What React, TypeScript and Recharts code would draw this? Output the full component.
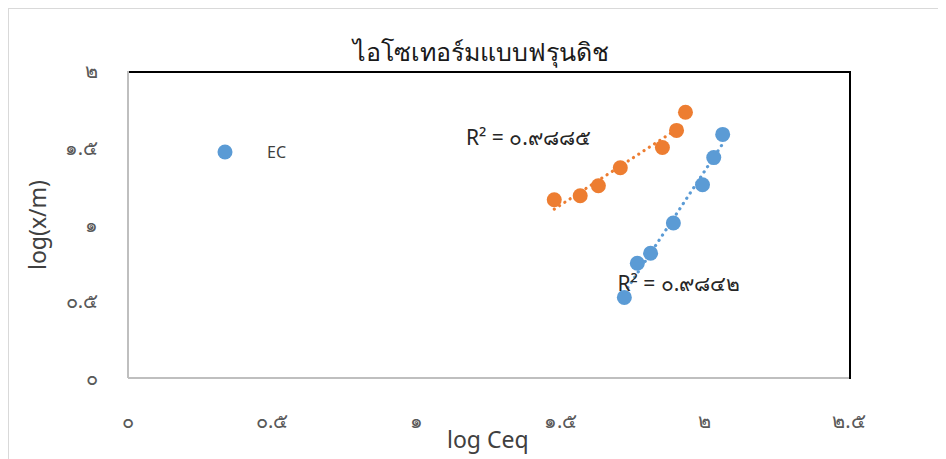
import {
  ScatterChart,
  Scatter,
  XAxis,
  YAxis,
  Legend,
  ReferenceDot,
} from "recharts";

// log Ceq / log(x/m) pairs for both isotherm series
const EC_X = [1.721, 1.766, 1.812, 1.891, 1.992, 2.031, 2.062];
const EC_Y = [0.525, 0.748, 0.813, 1.01, 1.259, 1.436, 1.587];
const ORANGE_X = [1.478, 1.568, 1.631, 1.707, 1.853, 1.902, 1.933];
const ORANGE_Y = [1.161, 1.187, 1.252, 1.37, 1.502, 1.613, 1.731];

// trendline end points (linear fit)
const EC_TREND_X = [1.721, 2.062];
const EC_TREND_Y = [0.554, 1.526];
const ORANGE_TREND_X = [1.478, 1.933];
const ORANGE_TREND_Y = [1.1, 1.657];

const X_TICKS = [0, 0.5, 1, 1.5, 2, 2.5];
const Y_TICKS = [0, 0.5, 1, 1.5, 2];

const TITLE = "ไอโซเทอร์มแบบฟรุนดิช";
const EC_R2 = "R² = ๐.๙๘๔๒";
const ORANGE_R2 = "R² = ๐.๙๘๘๕";

const BLUE = "#5B9BD5";
const ORANGE = "#ED7D31";
const FONT = "'Noto Sans', 'DejaVu Sans', sans-serif";

const THAI_DIGITS = "๐๑๒๓๔๕๖๗๘๙";
const toThai = (v: number) =>
  String(v).replace(/[0-9]/g, (d) => THAI_DIGITS[Number(d)]);

const zip = (xs: number[], ys: number[]) => xs.map((x, i) => ({ x, y: ys[i] }));

const ecData = zip(EC_X, EC_Y);
const orangeData = zip(ORANGE_X, ORANGE_Y);
const ecTrend = zip(EC_TREND_X, EC_TREND_Y);
const orangeTrend = zip(ORANGE_TREND_X, ORANGE_TREND_Y);

const W = 938;
const H = 451;

const dotted = (color: string) => ({
  stroke: color,
  strokeWidth: 3.2,
  strokeDasharray: "0.1 6.2",
  strokeLinecap: "round" as const,
});

const NoShape = () => <g />;

const renderLegend = () => (
  <div style={{ display: "flex", alignItems: "center", fontFamily: FONT }}>
    <svg width={16} height={16}>
      <circle cx={8} cy={8} r={7.5} fill={BLUE} />
    </svg>
    <span style={{ marginLeft: 34, fontSize: 16, color: "#404040" }}>EC</span>
  </div>
);

const tickStyle = { fill: "#595959", fontSize: 20, fontFamily: FONT };
const r2Style = { fill: "#262626", fontSize: 21, fontFamily: FONT };

export default function App() {
  return (
    <div
      style={{
        position: "relative",
        width: W,
        height: H,
        borderTop: "2px solid #d9d9d9",
        borderLeft: "2px solid #d9d9d9",
        margin: "-1px 0 0 -1px",
        background: "#fff",
      }}
    >
      <div
        style={{
          position: "absolute",
          left: 0,
          width: 944,
          top: 23,
          textAlign: "center",
          fontFamily: FONT,
          fontSize: 25,
          color: "#1a1a1a",
        }}
      >
        {TITLE}
      </div>
      <div
        style={{
          position: "absolute",
          left: 438,
          top: 414,
          fontFamily: FONT,
          fontSize: 23,
          color: "#404040",
        }}
      >
        log Ceq
      </div>
      <div
        style={{
          position: "absolute",
          left: 28,
          top: 216,
          transform: "translate(-50%, -50%) rotate(-90deg)",
          fontFamily: FONT,
          fontSize: 23,
          color: "#404040",
          whiteSpace: "nowrap",
        }}
      >
        log(x/m)
      </div>
      <ScatterChart
        width={W}
        height={H}
        margin={{ top: 62, right: 98, bottom: 32, left: 20 }}
        style={{ position: "absolute", left: 0, top: 0 }}
      >
        <XAxis
          type="number"
          dataKey="x"
          domain={[0, 2.5]}
          ticks={X_TICKS}
          tickFormatter={toThai}
          height={50}
          stroke="#bfbfbf"
          strokeWidth={2}
          tickLine={false}
          tickSize={0}
          tickMargin={36}
          tick={tickStyle}
        />
        <YAxis
          type="number"
          dataKey="y"
          domain={[0, 2]}
          ticks={Y_TICKS}
          tickFormatter={toThai}
          width={99}
          stroke="#bfbfbf"
          strokeWidth={2}
          tickLine={false}
          tickSize={0}
          tickMargin={30}
          tick={tickStyle}
        />
        <Legend
          content={renderLegend}
          layout="horizontal"
          verticalAlign="middle"
          align="center"
          wrapperStyle={{ top: 132, left: 208, width: 100 }}
        />
        <Scatter
          name="trend-orange"
          data={orangeTrend}
          line={dotted(ORANGE)}
          shape={NoShape}
          legendType="none"
          isAnimationActive={false}
        />
        <Scatter
          name="trend-ec"
          data={ecTrend}
          line={dotted(BLUE)}
          shape={NoShape}
          legendType="none"
          isAnimationActive={false}
        />
        <Scatter
          name="series2"
          data={orangeData}
          fill={ORANGE}
          shape={(p: any) => <circle cx={p.cx} cy={p.cy} r={7.5} fill={ORANGE} />}
          legendType="none"
          isAnimationActive={false}
        />
        <Scatter
          name="EC"
          data={ecData}
          fill={BLUE}
          shape={(p: any) => <circle cx={p.cx} cy={p.cy} r={7.5} fill={BLUE} />}
          isAnimationActive={false}
        />
        <ReferenceDot
          x={1.172}
          y={1.567}
          r={0}
          stroke="none"
          label={{ value: ORANGE_R2, position: "right", offset: 0, ...r2Style }}
        />
        <ReferenceDot
          x={1.697}
          y={0.613}
          r={0}
          stroke="none"
          label={{ value: EC_R2, position: "right", offset: 0, ...r2Style }}
        />
      </ScatterChart>
      {/* plot frame: dark top and right edges */}
      <div
        style={{
          position: "absolute",
          left: 120,
          top: 62,
          width: 720,
          height: 306,
          borderTop: "2px solid #000",
          borderRight: "2px solid #000",
          pointerEvents: "none",
        }}
      />
    </div>
  );
}
